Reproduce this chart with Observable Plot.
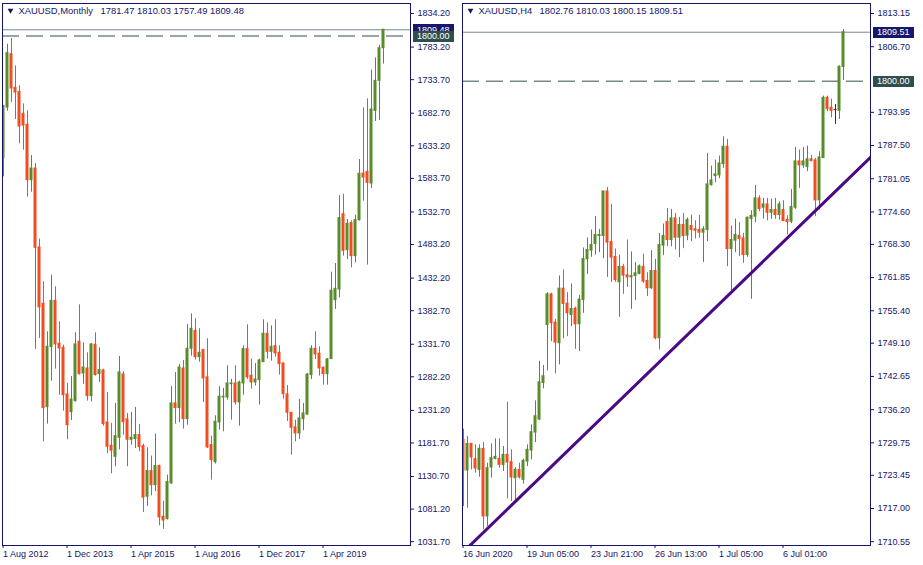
<!DOCTYPE html>
<html><head><meta charset="utf-8">
<script src="https://cdn.jsdelivr.net/npm/d3@7"></script>
<script src="https://cdn.jsdelivr.net/npm/@observablehq/plot@0.6"></script>
<style>
body{margin:0;background:#fff;}
#wrap{position:relative;width:923px;height:565px;overflow:hidden;background:#fff;}
#left{position:absolute;left:0;top:0;}
#right{position:absolute;left:460px;top:0;}
svg{display:block}
</style></head><body><div id="wrap"><div id="left"></div><div id="right"></div></div>
<script>
// ---------- Monthly XAUUSD (Aug 2012 .. Jul 2020) ----------
const monthlyOpen = [1614.9,1691.3,1772.4,1721.2,1715.1,1681.7,1665.0,1581.0,1598.7,1478.7,1393.1,1236.2,1327.3,1397.7,1332.4,1326.3,1255.4,1228.6,1245.3,1335.4,1287.3,1294.9,1252.9,1330.9,1286.3,1291.9,1212.9,1177.4,1160.7,1189.6,1285.8,1217.5,1186.6,1187.6,1193.7,1176.9,1100.0,1139.0,1117.7,1146.6,1069.6,1066.1,1120.2,1241.8,1234.7,1294.9,1218.0,1324.8,1352.1,1312.1,1322.8,1281.3,1178.5,1152.6,1212.9,1250.9,1250.9,1271.1,1272.1,1243.3,1272.1,1324.3,1283.8,1273.7,1277.2,1304.5,1347.6,1320.2,1328.8,1318.7,1302.5,1255.4,1227.6,1205.3,1196.2,1218.0,1225.0,1284.8,1324.8,1317.2,1295.9,1286.3,1309.1,1398.7,1414.9,1529.3,1474.7,1515.7,1465.5,1520.2,1591.1,1593.6,1575.9,1686.3,1731.9,1781.47];
const monthlyHigh = [1694.5,1787.5,1796.2,1754.6,1724.3,1696.9,1686.3,1618.4,1606.3,1491.4,1426.6,1350.6,1436.7,1419.0,1365.8,1330.4,1272.1,1282.8,1349.1,1391.6,1333.9,1318.7,1332.9,1349.1,1326.3,1293.9,1258.5,1211.4,1241.8,1313.1,1289.9,1226.6,1228.1,1235.7,1209.9,1180.0,1174.4,1161.8,1195.2,1148.1,1093.4,1132.9,1267.6,1288.8,1301.0,1307.1,1361.7,1377.9,1370.4,1355.2,1324.0,1340.0,1192.1,1223.0,1267.1,1264.5,1299.0,1278.2,1299.0,1275.7,1329.4,1361.2,1309.1,1302.5,1309.1,1368.8,1364.3,1359.7,1368.8,1329.4,1303.0,1269.1,1228.0,1216.4,1247.8,1241.8,1287.3,1329.4,1350.6,1327.8,1297.4,1310.1,1441.2,1454.4,1557.7,1559.7,1521.2,1519.2,1527.8,1612.4,1690.8,1704.5,1748.1,1766.8,1786.0,1810.03];
const monthlyLow = [1586.0,1685.8,1698.9,1673.1,1636.2,1626.5,1555.2,1562.7,1323.8,1340.5,1183.5,1210.4,1275.7,1293.9,1254.4,1230.1,1186.6,1215.9,1243.8,1284.8,1271.1,1245.3,1244.3,1283.3,1273.7,1207.3,1165.3,1134.9,1145.6,1171.4,1193.7,1145.6,1178.5,1173.4,1168.3,1076.2,1085.3,1101.5,1107.6,1055.9,1050.4,1064.6,1119.2,1210.4,1212.4,1202.8,1208.8,1313.6,1307.6,1304.5,1243.3,1173.4,1125.3,1149.6,1201.3,1198.7,1246.8,1216.4,1239.2,1207.3,1254.4,1278.2,1263.5,1268.1,1239.2,1304.5,1309.1,1306.0,1312.1,1284.8,1248.3,1214.4,1163.3,1183.5,1187.1,1200.2,1223.5,1278.2,1308.6,1283.3,1269.6,1269.6,1309.1,1384.5,1402.2,1465.5,1460.5,1447.8,1455.4,1518.7,1549.1,1451.9,1568.3,1670.1,1672.1,1757.49];
const monthlyClose = [1693.4,1773.9,1720.2,1714.1,1662.5,1664.0,1581.0,1598.7,1478.2,1387.6,1234.7,1327.8,1397.7,1331.4,1325.3,1254.4,1208.8,1247.8,1331.4,1286.3,1296.4,1252.9,1331.4,1284.8,1292.4,1210.4,1175.9,1169.9,1192.1,1288.8,1213.4,1186.6,1189.6,1193.7,1175.4,1098.5,1139.0,1117.7,1146.6,1068.6,1064.0,1122.3,1241.8,1234.7,1296.4,1218.0,1324.8,1355.2,1312.1,1318.7,1279.7,1174.9,1155.7,1213.9,1251.9,1251.9,1272.1,1272.1,1243.3,1273.7,1324.3,1281.3,1273.7,1278.2,1307.1,1347.6,1320.2,1327.8,1317.7,1301.5,1255.9,1227.6,1204.8,1196.2,1219.0,1226.6,1285.8,1324.8,1316.2,1294.9,1286.3,1308.6,1412.9,1415.9,1523.3,1473.6,1514.7,1465.5,1520.2,1590.6,1585.0,1576.9,1688.3,1731.9,1781.5,1809.48];
const monthlyTicks = [1834.20,1783.20,1733.70,1682.70,1633.20,1583.70,1532.70,1483.20,1432.20,1382.70,1331.70,1282.20,1231.20,1181.70,1130.70,1081.20,1031.70];
const monthlyDateLabels = ["1 Aug 2012","1 Dec 2013","1 Apr 2015","1 Aug 2016","1 Dec 2017","1 Apr 2019"];

// ---------- H4 XAUUSD (16 Jun 2020 .. 8 Jul 2020) ----------
const h4Open = [1730.33,1724.38,1729.55,1726.58,1724.50,1728.58,1715.45,1724.96,1726.64,1726.64,1725.47,1727.42,1725.99,1722.89,1724.50,1722.57,1726.12,1728.26,1731.75,1734.28,1741.39,1752.65,1758.60,1753.10,1749.09,1759.70,1756.79,1754.59,1755.82,1752.78,1757.50,1765.40,1767.08,1768.37,1769.92,1769.92,1778.59,1768.76,1765.85,1760.93,1763.91,1762.29,1761.90,1762.16,1762.55,1763.91,1761.19,1759.77,1763.13,1750.06,1768.05,1772.64,1769.15,1773.35,1769.60,1772.06,1769.99,1771.86,1771.22,1771.09,1770.57,1771.09,1779.82,1781.57,1781.70,1783.90,1787.26,1767.40,1769.02,1769.92,1769.47,1766.24,1773.22,1773.68,1777.23,1775.42,1776.07,1774.45,1774.97,1774.00,1774.97,1773.03,1772.71,1775.42,1784.42,1783.64,1783.32,1784.81,1784.61,1776.85,1785.06,1796.77,1794.83,1794.38,1794.25,1802.76];
const h4High = [1732.40,1730.97,1729.55,1729.36,1729.36,1729.81,1725.80,1729.55,1730.52,1730.52,1729.03,1737.64,1728.39,1724.96,1725.80,1726.58,1729.36,1733.24,1737.90,1745.60,1744.76,1758.93,1758.80,1753.75,1762.16,1763.33,1758.93,1760.61,1756.08,1758.41,1767.60,1769.54,1771.09,1773.68,1771.22,1778.59,1779.37,1776.07,1767.40,1766.24,1764.43,1769.15,1766.82,1764.75,1764.30,1766.37,1762.81,1767.08,1765.40,1770.44,1772.25,1775.29,1775.10,1774.32,1773.55,1774.32,1773.42,1774.00,1772.90,1773.94,1771.74,1785.97,1783.51,1784.68,1785.45,1789.21,1788.69,1771.86,1773.22,1772.51,1770.44,1773.61,1774.84,1779.76,1777.75,1777.23,1777.23,1777.11,1777.23,1776.59,1776.78,1773.87,1778.98,1787.13,1786.62,1787.13,1787.39,1785.58,1785.00,1786.29,1797.10,1797.10,1796.52,1795.48,1802.99,1810.03];
const h4Low = [1717.39,1717.06,1724.50,1723.86,1723.08,1712.86,1713.51,1722.89,1726.45,1724.83,1724.18,1718.88,1718.36,1718.04,1722.70,1721.72,1725.15,1726.45,1729.81,1734.08,1740.23,1743.72,1749.41,1743.14,1744.89,1749.93,1750.39,1752.33,1747.93,1747.48,1754.91,1762.48,1765.78,1766.24,1766.69,1765.52,1761.90,1760.93,1760.93,1754.14,1758.60,1759.96,1755.69,1757.37,1762.36,1760.74,1758.15,1759.57,1749.74,1747.80,1766.11,1767.85,1767.85,1767.21,1765.72,1767.47,1769.02,1768.82,1769.34,1769.47,1764.75,1768.82,1779.63,1780.28,1781.05,1783.06,1763.97,1759.31,1766.69,1765.91,1764.62,1765.78,1757.63,1772.51,1774.65,1773.22,1772.90,1773.16,1773.16,1773.03,1772.71,1770.12,1772.32,1775.10,1779.18,1783.06,1782.41,1784.35,1773.68,1774.97,1785.06,1794.06,1792.89,1791.60,1792.57,1800.15];
const h4Close = [1724.38,1729.55,1726.90,1724.76,1728.58,1715.45,1724.83,1726.77,1727.03,1725.47,1727.42,1725.93,1723.02,1724.50,1723.02,1726.25,1728.39,1731.82,1734.92,1741.52,1742.69,1758.60,1752.97,1749.22,1759.70,1756.73,1754.91,1755.76,1752.78,1757.57,1765.46,1767.21,1768.18,1770.12,1770.12,1778.59,1768.63,1765.72,1761.38,1763.91,1762.23,1761.90,1762.16,1762.68,1764.04,1761.06,1759.77,1763.13,1750.06,1768.18,1769.92,1769.15,1773.35,1769.60,1772.06,1769.92,1773.03,1771.09,1770.96,1770.57,1771.22,1779.95,1780.73,1781.89,1784.03,1787.26,1767.40,1769.15,1770.12,1769.34,1766.24,1773.48,1773.81,1777.23,1775.17,1776.07,1774.45,1774.97,1774.00,1776.07,1772.84,1772.64,1775.55,1784.42,1783.64,1784.42,1784.81,1784.48,1776.85,1785.19,1796.77,1794.57,1794.25,1794.38,1802.79,1809.51];
const h4Ticks = [1813.15,1806.70,1793.95,1787.50,1781.05,1774.60,1768.30,1761.85,1755.40,1749.10,1742.65,1736.20,1729.75,1723.45,1717.00,1710.55];
const h4DateLabels = ["16 Jun 2020","19 Jun 05:00","23 Jun 21:00","26 Jun 13:00","1 Jul 05:00","6 Jul 01:00"];

// support / trend line anchors (bar index, price)
const trendBars = [0, 102];
const trendPrices = [1708.59, 1785.4];

// horizontal levels
const levelPrice = 1800.00;
const monthlyBid = 1809.48, h4Bid = 1809.51;
const monthlyQuote = [1781.47, 1810.03, 1757.49, 1809.48];
const h4Quote = [1802.76, 1810.03, 1800.15, 1809.51];
const dateTickBars = [0, 16, 32, 48, 64, 80];

const NAVY = "#15156b", UP = "#5a8b2b", DOWN = "#f24c22", DOJI = "#8b0a0a";
const FONT = "'Liberation Sans', Arial, sans-serif";

function candles(o, h, l, c) {
  return o.map((v, i) => ({i, open: v, high: h[i], low: l[i], close: c[i]}));
}
function candleColor(d) {
  return d.close > d.open ? UP : d.close < d.open ? DOWN : DOJI;
}

function panel({width, marginRight, data, yDomain, yTicks, dateLabels, name, quote, quoteDx, bid, trend}) {
  const marks = [
    Plot.ruleY([bid], {stroke: "#778899", strokeWidth: 1}),
    Plot.ruleY([levelPrice], {stroke: "#2f4f4f", strokeWidth: 1, strokeDasharray: "17,7"}),
    Plot.ruleX(data, {x: "i", y1: "low", y2: "high", stroke: candleColor, strokeWidth: 1, clip: true}),
    Plot.rect(data, {x1: d => d.i - 0.375, x2: d => d.i + 0.375, y1: "open", y2: "close", fill: candleColor, insetTop: -0.5, insetBottom: -0.5, clip: true})
  ];
  if (trend) {
    marks.push(Plot.line(trendBars.map((b, k) => ({b, p: trendPrices[k]})), {x: "b", y: "p", stroke: "#4b0a85", strokeWidth: 3, clip: true}));
  }
  marks.push(
    Plot.frame({stroke: NAVY, strokeWidth: 1}),
    Plot.axisY(yTicks, {anchor: "right", tickSize: 3, tickPadding: 4, tickFormat: d => d.toFixed(2), fontSize: 9, label: null, fill: NAVY, stroke: NAVY}),
    Plot.axisX(dateTickBars, {anchor: "bottom", tickSize: 3, tickPadding: 2, tickFormat: d => dateLabels[dateTickBars.indexOf(d)], textAnchor: "start", dx: -0.5, fontSize: 9, label: null, fill: NAVY, stroke: NAVY}),
    Plot.dot([0], {frameAnchor: "top-left", dx: 8, dy: 7, symbol: "triangle", rotate: 180, r: 2.1, fill: NAVY, stroke: null}),
    Plot.text([name], {frameAnchor: "top-left", dx: 16, dy: 7.5, textAnchor: "start", lineAnchor: "middle", fontSize: 9.4, fill: NAVY}),
    Plot.text([quote.map(v => v.toFixed(2)).join(" ")], {frameAnchor: "top-left", dx: quoteDx, dy: 7.5, textAnchor: "start", lineAnchor: "middle", fontSize: 9.4, fill: NAVY})
  );
  const chart = Plot.plot({
    width, height: 565,
    marginLeft: 2, marginRight, marginTop: 3, marginBottom: 20,
    x: {domain: [-0.25, 101.75], axis: null},
    y: {domain: yDomain, axis: null},
    style: {fontFamily: FONT, fontSize: "9px", color: NAVY, background: "white", overflow: "visible"},
    marks
  });
  return chart;
}

function badge(chart, value, bg) {
  const ys = chart.scale("y");
  const y = ys.apply(value) + 0.5;
  const g = d3.select(chart).append("g");
  g.append("rect").attr("x", 413).attr("y", Math.round(y - 5.5)).attr("width", 41).attr("height", 11).attr("fill", bg);
  g.append("text").attr("x", 417).attr("y", y).attr("dy", "0.33em").attr("fill", "#ffffff")
    .attr("text-anchor", "start").attr("font-size", 9).attr("font-family", FONT).text(value.toFixed(2));
}

const left = panel({
  width: 460, marginRight: 50,
  data: candles(monthlyOpen, monthlyHigh, monthlyLow, monthlyClose),
  yDomain: [1025.93, 1849.39], yTicks: monthlyTicks, dateLabels: monthlyDateLabels,
  name: "XAUUSD,Monthly", quote: monthlyQuote, quoteDx: 98, bid: monthlyBid, trend: false
});
badge(left, monthlyBid, "#17176b");
badge(left, levelPrice, "#2f4f4f");
document.getElementById("left").appendChild(left);

const right = panel({
  width: 463, marginRight: 53,
  data: candles(h4Open, h4High, h4Low, h4Close),
  yDomain: [1709.81, 1815.09], yTicks: h4Ticks, dateLabels: h4DateLabels,
  name: "XAUUSD,H4", quote: h4Quote, quoteDx: 77, bid: h4Bid, trend: true
});
badge(right, h4Bid, "#17176b");
badge(right, levelPrice, "#2f4f4f");
document.getElementById("right").appendChild(right);
</script>
</body></html>
